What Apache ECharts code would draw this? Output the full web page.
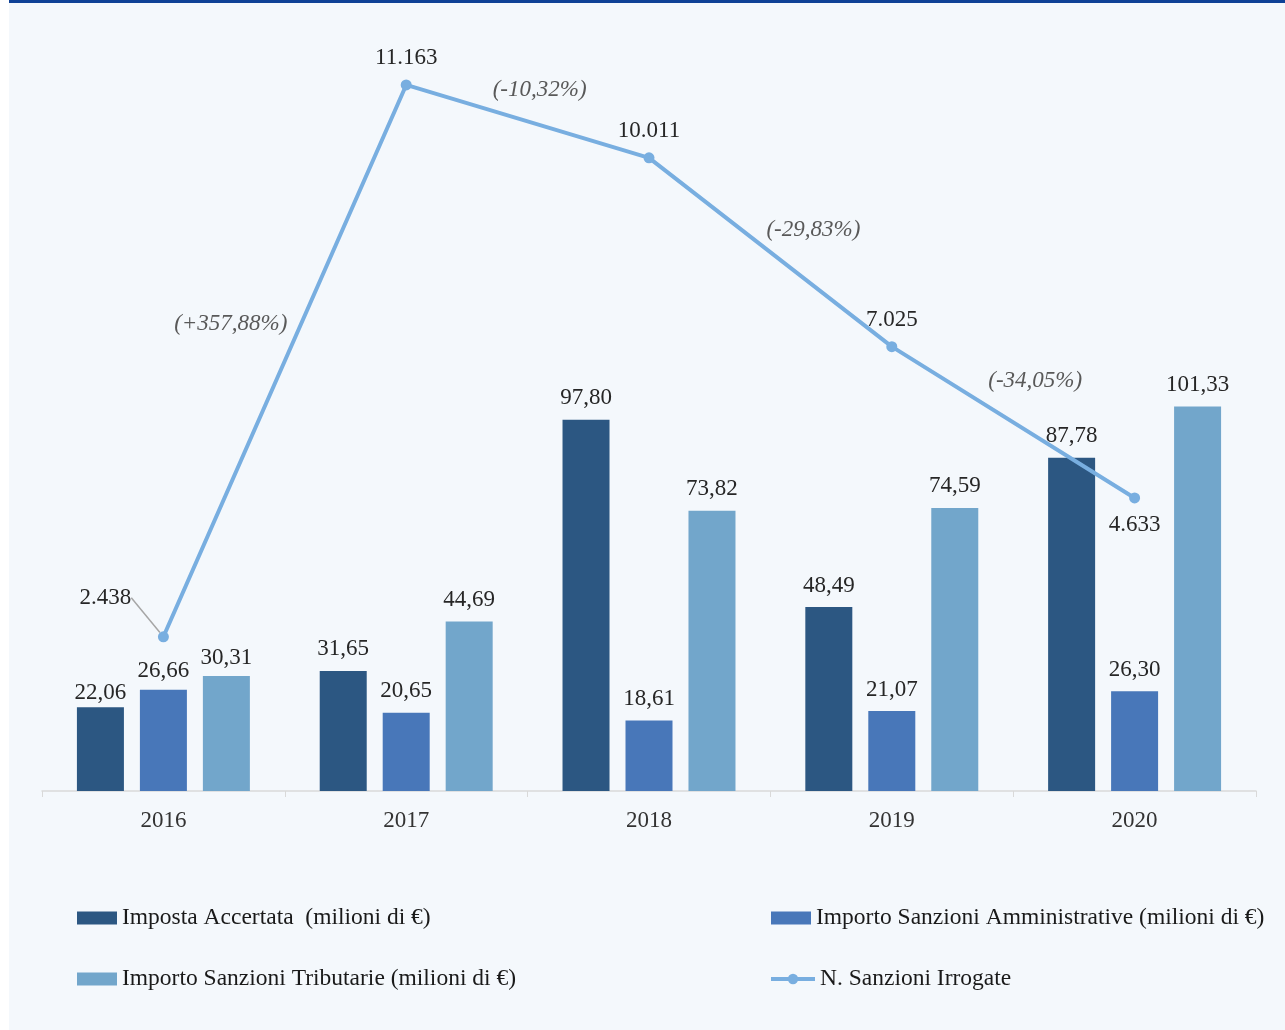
<!DOCTYPE html>
<html><head><meta charset="utf-8">
<script src="https://cdn.jsdelivr.net/npm/echarts@6/dist/echarts.min.js"></script>
<style>
html,body{margin:0;padding:0;background:#fff;}
#wrap{position:absolute;left:9px;top:0;width:1276px;height:1030px;background:#f4f8fc;border-top:3px solid #0e4196;box-sizing:border-box;}
#c{position:absolute;left:0;top:0;width:1285px;height:1030px;}
</style></head><body>
<div id="wrap"></div>
<div id="c"></div>
<script>
const categories = ['2016','2017','2018','2019','2020'];
const impostaAccertata = [22.06, 31.65, 97.80, 48.49, 87.78];
const sanzioniAmministrative = [26.66, 20.65, 18.61, 21.07, 26.30];
const sanzioniTributarie = [30.31, 44.69, 73.82, 74.59, 101.33];
const sanzioniIrrogate = [2438, 11163, 10011, 7025, 4633];
const variazioni = ['(+357,88%)', '(-10,32%)', '(-29,83%)', '(-34,05%)'];
const seriesNames = ['Imposta Accertata  (milioni di €)', 'Importo Sanzioni Amministrative (milioni di €)', 'Importo Sanzioni Tributarie (milioni di €)', 'N. Sanzioni Irrogate'];

const FONT = '"Liberation Serif", "DejaVu Serif", serif';
const FS = 23;
const fmtDec = v => v.toFixed(2).replace('.', ',');
const fmtInt = v => String(v).replace(/\B(?=(\d{3})+(?!\d))/g, '.');

const chart = echarts.init(document.getElementById('c'));
const barLabel = {show:true, position:'top', distance:10, color:'#262626', fontFamily:FONT, fontSize:FS, formatter:p=>fmtDec(p.value)};
// first category labels sit slightly closer to their bars in the original
const barData = (arr, firstDist) => arr.map((v,i)=> i===0 ? {value:v, label:{distance:firstDist}} : v);
const legendBase = {icon:'rect', itemWidth:40, itemHeight:13, itemGap:0, textStyle:{fontFamily:FONT, fontSize:23.5, color:'#1a1a1a'}, selectedMode:false, padding:0};
const lineData = sanzioniIrrogate.map((v,i)=>{
  if(i===0) return {value:v, labelLine:{show:true}};
  if(i===sanzioniIrrogate.length-1) return {value:v, label:{position:'bottom'}};
  return v;
});
chart.setOption({
  backgroundColor:'transparent',
  animation:false,
  grid:{left:42, right:29, top:32, bottom:239},
  legend:[
    Object.assign({}, legendBase, {left:77, top:906, data:[seriesNames[0]]}),
    Object.assign({}, legendBase, {left:771, top:906, data:[seriesNames[1]]}),
    Object.assign({}, legendBase, {left:77, top:967, data:[seriesNames[2]]}),
    Object.assign({}, legendBase, {left:769, top:967, icon:undefined, itemWidth:44,
      lineStyle:{width:4, color:'#78aee0'}, data:[{name:seriesNames[3]}]})
  ],
  xAxis:{type:'category', data:categories,
    axisLine:{lineStyle:{color:'#d9d9d9', width:1.5}},
    axisTick:{show:true, length:6, lineStyle:{color:'#d9d9d9'}},
    axisLabel:{fontFamily:FONT, fontSize:FS, color:'#333', margin:18}},
  yAxis:[
    {type:'value', min:0, max:200, show:false, splitLine:{show:false}},
    {type:'value', min:0, max:12000, show:false, splitLine:{show:false}}
  ],
  series:[
    {name:seriesNames[0], type:'bar', data:barData(impostaAccertata,3), barWidth:47, barGap:'34%', itemStyle:{color:'#2c5782'}, label:barLabel},
    {name:seriesNames[1], type:'bar', data:barData(sanzioniAmministrative,7), barWidth:47, barGap:'34%', itemStyle:{color:'#4877b9'}, label:barLabel},
    {name:seriesNames[2], type:'bar', data:barData(sanzioniTributarie,7), barWidth:47, barGap:'34%', itemStyle:{color:'#72a6cb'}, label:barLabel},
    {name:seriesNames[3], type:'line', yAxisIndex:1, z:10, data:lineData,
      symbol:'circle', symbolSize:11,
      lineStyle:{color:'#78aee0', width:4}, itemStyle:{color:'#78aee0'},
      label:{show:true, fontFamily:FONT, fontSize:FS, color:'#262626', distance:10,
        position:'top', formatter:p=>fmtInt(p.value)},
      labelLine:{show:false, lineStyle:{color:'#a6a6a6', width:1.5}},
      labelLayout:function(p){
        if(p.dataIndex===0) return {x:p.rect.x - 58 + p.rect.width/2, y:p.rect.y - 39 + p.rect.height/2, align:'center', verticalAlign:'middle'};
        return null;
      }
    }
  ]
});

// percentage annotations placed relative to midpoints of line segments
const offsets = [[-54,-37],[12,-31],[43,-22],[22,-41]];
const g = [];
for(let i=0;i<variazioni.length;i++){
  const a = chart.convertToPixel({xAxisIndex:0, yAxisIndex:1}, [i, sanzioniIrrogate[i]]);
  const b = chart.convertToPixel({xAxisIndex:0, yAxisIndex:1}, [i+1, sanzioniIrrogate[i+1]]);
  g.push({type:'text', x:(a[0]+b[0])/2+offsets[i][0], y:(a[1]+b[1])/2+offsets[i][1],
    style:{text:variazioni[i], fontFamily:FONT, fontSize:FS, fontStyle:'italic', fill:'#595959', align:'center', verticalAlign:'middle'}});
}
chart.setOption({graphic:g});
</script>
</body></html>
